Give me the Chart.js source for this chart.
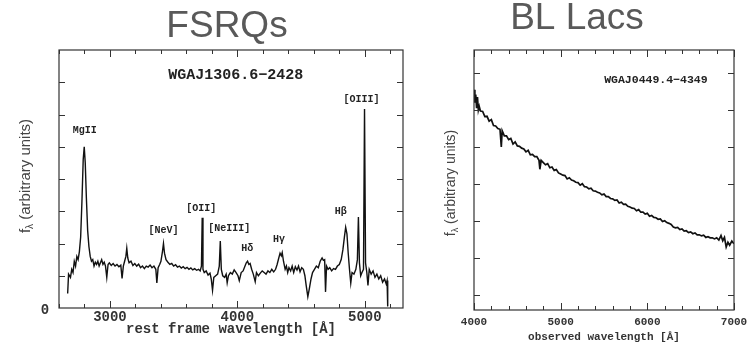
<!DOCTYPE html>
<html lang="en">
<head>
  <meta charset="UTF-8">
  <title>FSRQs vs BL Lacs</title>
  <script src="https://cdn.jsdelivr.net/npm/chart.js"></script>
  <style>
    body { margin: 0; background: #fff; width: 754px; height: 345px; position: relative; overflow: hidden; }
    canvas { position: absolute; top: 0; }
    #fsrq { left: 0; }
    #bllac { left: 420px; }
  </style>
</head>
<body>

<canvas id="fsrq" width="420" height="345"></canvas>
<canvas id="bllac" width="334" height="345"></canvas>

<script>
  // FSRQ spectrum WGAJ1306.6-2428 (rest frame wavelength, arbitrary flux)
  const fsrqWave = [
    2668, 2675, 2690, 2700, 2710, 2720, 2730, 2740, 2750, 2760,
    2770, 2780, 2790, 2798, 2806, 2815, 2825, 2835, 2845, 2855,
    2865, 2875, 2885, 2895, 2905, 2915, 2925, 2935, 2945, 2955,
    2965, 2975, 2985, 2995, 3010, 3025, 3040, 3055, 3070, 3085,
    3095, 3105, 3115, 3125, 3132, 3140, 3150, 3165, 3180, 3195,
    3210, 3225, 3240, 3255, 3270, 3285, 3300, 3315, 3330, 3345,
    3360, 3368, 3378, 3390, 3400, 3412, 3420, 3428, 3440, 3455,
    3470, 3485, 3500, 3515, 3530, 3545, 3560, 3575, 3590, 3605,
    3620, 3635, 3650, 3665, 3680, 3695, 3708, 3718, 3724, 3730,
    3740, 3755, 3770, 3785, 3795, 3805, 3815, 3830, 3845, 3858,
    3866, 3874, 3885, 3900, 3912, 3920, 3930, 3945, 3960, 3975,
    3990, 4005, 4015, 4030, 4045, 4060, 4070, 4080, 4090, 4100,
    4112, 4125, 4140, 4150, 4165, 4180, 4195, 4210, 4225, 4240,
    4255, 4270, 4285, 4300, 4312, 4325, 4335, 4345, 4352, 4362,
    4375, 4385, 4395, 4405, 4418, 4430, 4442, 4455, 4468, 4480,
    4492, 4505, 4518, 4530, 4540, 4553, 4565, 4578, 4590, 4605,
    4620, 4635, 4650, 4665, 4675, 4685, 4692, 4700, 4712, 4725,
    4740, 4755, 4770, 4785, 4800, 4815, 4828, 4840, 4850, 4860,
    4870, 4880, 4890, 4900, 4915, 4930, 4942, 4950, 4958, 4968,
    4978, 4990, 4998, 5006, 5016, 5025, 5035, 5050, 5065, 5080,
    5095, 5110, 5125, 5140, 5155, 5168, 5175, 5180
  ];
  const fsrqFlux = [
    0.45, 1.05, 0.95, 1.2, 1.1, 1.45, 1.3, 1.6, 1.5, 1.75,
    2.2, 3.3, 4.6, 5.0, 4.5, 3.4, 2.4, 1.9, 1.6, 1.45,
    1.5, 1.3, 1.42, 1.35, 1.45, 1.3, 1.4, 1.5, 1.35, 1.42,
    1.3, 0.95, 1.35, 1.4, 1.32, 1.38, 1.3, 1.35, 1.28, 1.33,
    0.92, 1.3, 1.45, 1.6, 1.85, 1.55, 1.4, 1.45, 1.32, 1.38,
    1.3, 1.36, 1.25, 1.3, 1.22, 1.3, 1.27, 1.33, 1.25, 1.3,
    1.2, 0.78, 1.25, 1.35, 1.45, 1.75, 2.0, 1.7, 1.5, 1.42,
    1.35, 1.38, 1.3, 1.34, 1.27, 1.3, 1.24, 1.28, 1.22, 1.26,
    1.2, 1.24, 1.18, 1.22, 1.17, 1.2, 1.15, 1.3, 2.8, 1.2,
    1.1, 1.15, 1.02, 1.08, 0.9, 0.55, 0.95, 1.0, 1.05, 1.3,
    2.08, 1.2, 1.0, 0.95, 1.05, 0.78, 1.0, 1.1, 1.05, 1.18,
    1.1, 1.0, 0.85, 1.1, 1.15, 1.3, 1.4, 1.45, 1.35, 1.38,
    1.2, 1.05, 0.82, 1.1, 1.0, 1.08, 1.15, 1.1, 1.05, 1.15,
    1.1, 1.2, 1.12, 1.2, 1.35, 1.55, 1.7, 1.62, 1.72, 1.45,
    1.2, 1.3, 1.1, 1.25, 1.15, 1.3, 1.1, 1.28, 1.18, 1.3,
    1.12, 1.25, 1.2, 1.0, 0.7, 0.35, 0.6, 0.9, 1.1, 1.2,
    1.3, 1.25, 1.45, 1.55, 1.48, 1.5, 0.5, 1.3, 1.2, 1.25,
    1.15, 1.22, 1.2, 1.3, 1.35, 1.5, 1.8, 2.2, 2.5, 2.3,
    1.7, 1.2, 0.77, 1.1, 1.05, 1.2, 1.5, 2.82, 1.4, 1.0,
    1.1, 1.2, 6.17, 1.4, 1.1, 0.7, 1.2, 1.05, 1.15, 0.95,
    1.05, 0.9, 1.0, 0.8, 0.9, 0.75, 0.85, 0.05
  ];

  // BL Lac spectrum WGAJ0449.4-4349 (observed wavelength, arbitrary flux)
  const bllacWave = [
    4000, 4010, 4020, 4030, 4040, 4050, 4060, 4075, 4100, 4125,
    4150, 4175, 4200, 4225, 4250, 4275, 4300, 4315, 4325, 4350,
    4375, 4400, 4425, 4450, 4475, 4500, 4525, 4550, 4575, 4600,
    4625, 4650, 4675, 4700, 4725, 4750, 4760, 4775, 4800, 4825,
    4850, 4875, 4900, 4925, 4950, 4975, 5000, 5025, 5050, 5075,
    5100, 5125, 5150, 5175, 5200, 5225, 5250, 5275, 5300, 5325,
    5350, 5375, 5400, 5425, 5450, 5475, 5500, 5525, 5550, 5575,
    5600, 5625, 5650, 5675, 5700, 5725, 5750, 5775, 5800, 5825,
    5850, 5875, 5900, 5925, 5950, 5975, 6000, 6025, 6050, 6075,
    6100, 6125, 6150, 6175, 6200, 6225, 6250, 6275, 6300, 6325,
    6350, 6375, 6400, 6425, 6450, 6475, 6500, 6525, 6550, 6575,
    6600, 6625, 6650, 6675, 6700, 6725, 6750, 6775, 6800, 6825,
    6850, 6870, 6890, 6910, 6930, 6950, 6975, 7000
  ];
  const bllacFlux = [
    5.55, 5.2, 5.42, 5.05, 5.35, 5.0, 5.1, 4.97, 4.96, 4.82,
    4.83, 4.7, 4.74, 4.58, 4.57, 4.5, 4.48, 4.0, 4.44, 4.3,
    4.3, 4.2, 4.23, 4.08, 4.14, 4.03, 4.02, 3.97, 3.95, 3.87,
    3.91, 3.79, 3.8, 3.74, 3.74, 3.64, 3.4, 3.64, 3.58, 3.52,
    3.55, 3.44, 3.46, 3.37, 3.39, 3.3, 3.27, 3.24, 3.23, 3.14,
    3.17, 3.11, 3.09, 3.05, 3.04, 2.97, 3.01, 2.93, 2.92, 2.87,
    2.89, 2.82, 2.81, 2.78, 2.76, 2.71, 2.73, 2.66, 2.66, 2.61,
    2.6, 2.56, 2.57, 2.49, 2.51, 2.45, 2.46, 2.4, 2.38, 2.35,
    2.34, 2.28, 2.31, 2.24, 2.24, 2.19, 2.21, 2.13, 2.15, 2.1,
    2.09, 2.05, 2.06, 1.99, 2.01, 1.96, 1.94, 1.91, 1.84, 1.82,
    1.83, 1.77, 1.79, 1.73, 1.74, 1.69, 1.71, 1.66, 1.68, 1.63,
    1.63, 1.6, 1.62, 1.56, 1.58, 1.55, 1.55, 1.52, 1.55, 1.49,
    1.61, 1.47, 1.56, 1.3, 1.43, 1.35, 1.46, 1.39
  ];

  // tick labels
  const fsrqXLabels = [3000, 4000, 5000];
  const fsrqYTicks = [1, 2, 3, 4, 5, 6, 7];
  const fsrqYLabels = [0];
  const bllacXLabels = [4000, 5000, 6000, 7000];
  const bllacYTicks = [0, 1, 2, 3, 4, 5, 6];

  const MONO = '"Liberation Mono", "Courier New", monospace';
  const SANS = '"Liberation Sans", Arial, sans-serif';

  // draws the PGPLOT-like frame: box, inward ticks, labels, titles, line names
  const framePlugin = {
    id: 'frame',
    afterDraw(chart, args, o) {
      const { ctx, chartArea: a, scales: { x, y } } = chart;
      ctx.save();

      // big panel title
      ctx.fillStyle = '#595959';
      ctx.font = '37px ' + SANS;
      ctx.textAlign = 'center';
      ctx.textBaseline = 'alphabetic';
      ctx.fillText(o.title, o.titleX, o.titleY);

      // box
      ctx.strokeStyle = '#333';
      ctx.lineWidth = 1.2;
      ctx.strokeRect(a.left, a.top, a.right - a.left, a.bottom - a.top);

      // inward ticks
      ctx.lineWidth = 1;
      ctx.beginPath();
      for (let v = x.min; v <= x.max; v += o.xMinor) {
        const px = Math.round(x.getPixelForValue(v)) + 0.5;
        const len = v % o.xMajor === 0 ? 7 : 4;
        ctx.moveTo(px, a.bottom); ctx.lineTo(px, a.bottom - len);
        ctx.moveTo(px, a.top); ctx.lineTo(px, a.top + len);
      }
      o.yTicks.forEach(v => {
        const py = Math.round(y.getPixelForValue(v)) + 0.5;
        ctx.moveTo(a.left, py); ctx.lineTo(a.left + 6, py);
        ctx.moveTo(a.right, py); ctx.lineTo(a.right - 6, py);
      });
      ctx.stroke();

      // tick labels
      ctx.fillStyle = '#333';
      ctx.font = o.tickFont;
      ctx.textBaseline = 'middle';
      o.xLabels.forEach(v => ctx.fillText(String(v), x.getPixelForValue(v), a.bottom + o.xLabelGap));
      (o.yLabels || []).forEach(v => ctx.fillText(String(v), a.left - 14, y.getPixelForValue(v) + 2));

      // x axis title
      ctx.font = o.xTitleFont;
      ctx.fillText(o.xTitle, (a.left + a.right) / 2, a.bottom + o.xTitleGap);

      // y axis title: f with subscript lambda
      ctx.save();
      ctx.translate(o.yTitleX, o.yTitleY);
      ctx.rotate(-Math.PI / 2);
      ctx.fillStyle = '#444';
      ctx.textAlign = 'left';
      ctx.textBaseline = 'alphabetic';
      const big = o.yTitleSize + 'px ' + SANS, small = Math.round(o.yTitleSize * 0.65) + 'px ' + SANS;
      ctx.font = big; const wf = ctx.measureText('f').width;
      const wr = ctx.measureText(' (arbitrary units)').width;
      ctx.font = small; const wl = ctx.measureText('λ').width;
      let sx = -(wf + wl + wr) / 2;
      ctx.font = big; ctx.fillText('f', sx, 5);
      ctx.font = small; ctx.fillText('λ', sx + wf, 8);
      ctx.font = big; ctx.fillText(' (arbitrary units)', sx + wf + wl, 5);
      ctx.restore();

      // object name and line identifications
      ctx.fillStyle = '#222';
      ctx.textAlign = 'center';
      ctx.textBaseline = 'middle';
      o.notes.forEach(n => {
        ctx.font = n.font;
        ctx.fillText(n.text, x.getPixelForValue(n.x), y.getPixelForValue(n.y));
      });

      ctx.restore();
    }
  };

  function spectrum(wave, flux) {
    return wave.map((w, i) => ({ x: w, y: flux[i] }));
  }

  function makeChart(id, wave, flux, xr, yr, padding, lineWidth, frame) {
    return new Chart(document.getElementById(id), {
      type: 'line',
      data: {
        datasets: [{
          data: spectrum(wave, flux),
          borderColor: '#111',
          borderWidth: lineWidth,
          pointRadius: 0,
          tension: 0
        }]
      },
      options: {
        responsive: false,
        animation: false,
        layout: { padding },
        plugins: { legend: { display: false }, tooltip: { enabled: false }, frame },
        scales: {
          x: { type: 'linear', min: xr[0], max: xr[1], display: false },
          y: { min: yr[0], max: yr[1], display: false }
        }
      },
      plugins: [framePlugin]
    });
  }

  const noteFont = 'bold 10px ' + MONO;

  makeChart('fsrq', fsrqWave, fsrqFlux, [2600, 5300], [0, 8],
    { left: 59, right: 17, top: 50, bottom: 37 }, 1.4,
    {
      title: 'FSRQs', titleX: 227, titleY: 37,
      xMinor: 200, xMajor: 1000,
      yTicks: fsrqYTicks, xLabels: fsrqXLabels, yLabels: fsrqYLabels,
      tickFont: 'bold 14px ' + MONO, xLabelGap: 9,
      xTitle: 'rest frame wavelength [Å]', xTitleFont: 'bold 14px ' + MONO, xTitleGap: 21,
      yTitleX: 25, yTitleY: 176, yTitleSize: 15,
      notes: [
        { text: 'WGAJ1306.6−2428', x: 3987, y: 7.22, font: 'bold 15px ' + MONO },
        { text: 'MgII', x: 2803, y: 5.49, font: noteFont },
        { text: '[NeV]', x: 3420, y: 2.39, font: noteFont },
        { text: '[OII]', x: 3717, y: 3.10, font: noteFont },
        { text: '[NeIII]', x: 3936, y: 2.48, font: noteFont },
        { text: 'Hδ', x: 4077, y: 1.86, font: noteFont },
        { text: 'Hγ', x: 4327, y: 2.11, font: noteFont },
        { text: 'Hβ', x: 4811, y: 3.0, font: noteFont },
        { text: '[OIII]', x: 4975, y: 6.48, font: noteFont }
      ]
    });

  makeChart('bllac', bllacWave, bllacFlux, [4000, 7000], [-0.4, 6.62],
    { left: 54, right: 20, top: 50, bottom: 35 }, 1.7,
    {
      title: 'BL Lacs', titleX: 157, titleY: 29,
      xMinor: 200, xMajor: 1000,
      yTicks: bllacYTicks, xLabels: bllacXLabels,
      tickFont: 'bold 11px ' + MONO, xLabelGap: 12,
      xTitle: 'observed wavelength [Å]', xTitleFont: 'bold 11px ' + MONO, xTitleGap: 27,
      yTitleX: 30, yTitleY: 183, yTitleSize: 14,
      notes: [
        { text: 'WGAJ0449.4−4349', x: 6099, y: 5.81, font: 'bold 11.5px ' + MONO }
      ]
    });
</script>

</body>
</html>
